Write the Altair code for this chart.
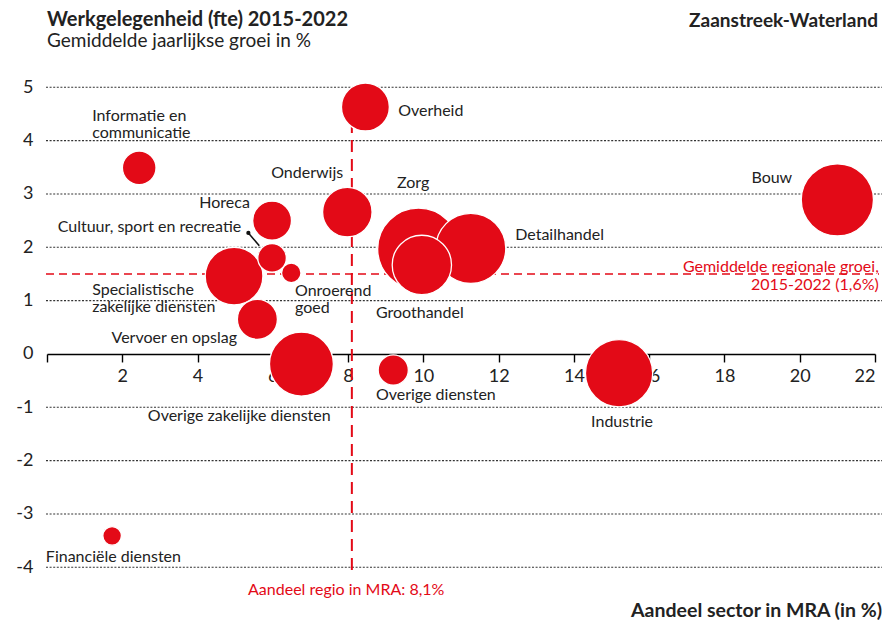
import altair as alt
import pandas as pd

# ---------------- data ----------------
sectoren = ["Informatie en communicatie", "Overheid", "Onderwijs", "Horeca",
            "Specialistische zakelijke diensten", "Cultuur, sport en recreatie",
            "Onroerend goed", "Vervoer en opslag", "Overige zakelijke diensten",
            "Overige diensten", "Zorg", "Detailhandel", "Groothandel", "Industrie",
            "Financiële diensten", "Bouw"]
aandeel_mra = [2.45, 8.46, 7.98, 5.98, 4.97, 5.98, 6.49, 5.59, 6.76, 9.2,
               9.87, 11.26, 9.96, 15.2, 1.73, 21.0]
groei = [3.49, 4.63, 2.66, 2.5, 1.46, 1.8, 1.52, 0.65, -0.19, -0.3,
         1.97, 1.98, 1.67, -0.36, -3.41, 2.89]
fte = [3600, 7300, 7800, 4800, 10600, 2600, 1200, 5100, 13000, 2900,
       21200, 15600, 11200, 14400, 1100, 16600]

# label annotations (data units)
label_tekst = ["Informatie en\ncommunicatie", "Overheid", "Onderwijs", "Zorg", "Horeca",
               "Cultuur, sport en recreatie", "Specialistische\nzakelijke diensten",
               "Onroerend\ngoed", "Groothandel", "Detailhandel", "Bouw",
               "Vervoer en opslag", "Overige zakelijke diensten", "Overige diensten",
               "Industrie", "Financiële diensten"]
label_x = [1.2, 9.33, 7.87, 9.3, 5.39, 5.16, 1.2, 6.59, 8.74, 12.44, 19.8,
           5.05, 2.68, 8.74, 15.28, -0.03]
label_y = [4.37, 4.46, 3.30, 3.11, 2.74, 2.29, 1.11, 1.09, 0.68, 2.14, 3.21,
           0.21, -1.26, -0.86, -1.37, -3.9]
label_align = ["left", "left", "right", "left", "right", "right", "left", "left",
               "left", "left", "right", "right", "left", "left", "center", "left"]

grid_y = [-4, -3, -2, -1, 1, 2, 3, 4, 5]
x_ticks = list(range(0, 23, 2))
y_ticks = list(range(-4, 6))

gem_groei = 1.5
aandeel_regio = 8.1

RED = "#e30a17"
DARK = "#222222"
FONT = "Lato"
W, H = 828, 480

bubbles = pd.DataFrame({"sector": sectoren, "aandeel": aandeel_mra, "groei": groei,
                        "fte": fte, "volgorde": list(range(len(sectoren)))})
labels = pd.DataFrame({"tekst": label_tekst, "lx": label_x, "ly": label_y,
                       "align": label_align})

xscale = alt.Scale(domain=[0, 22], nice=False, zero=False)
yscale = alt.Scale(domain=[-4, 5], nice=False, zero=False)

XAXIS = alt.Axis(values=x_ticks, grid=False, domain=True, domainColor="#000",
                 domainWidth=1.4, ticks=True, tickSize=8, tickColor="#000",
                 tickWidth=1.4, labelFontSize=18, labelFont=FONT,
                 labelColor=DARK, labelPadding=6,
                 labelExpr="datum.value == 0 ? '' : datum.label",
                 offset=-H * 4 / 9, title=None)
YAXIS = alt.Axis(values=y_ticks, grid=False, domain=False, ticks=False,
                 labelFontSize=18, labelFont=FONT, labelColor=DARK,
                 labelPadding=14, labelExpr="toString(datum.value)", title=None)


def X(f):
    return alt.X(f, scale=xscale, axis=XAXIS)


def Y(f):
    return alt.Y(f, scale=yscale, axis=YAXIS)


# gridlines
grid = alt.Chart(pd.DataFrame({"v": grid_y})).mark_rule(
    color="#333333", strokeDash=[2, 1.6], strokeWidth=1.1
).encode(y=Y("v:Q"), x=alt.value(-1), x2=alt.value(W + 7))

# horizontal reference line
href = alt.Chart(pd.DataFrame({"v": [gem_groei]})).mark_rule(
    color=RED, strokeDash=[8, 5], strokeWidth=1.5
).encode(y=Y("v:Q"), x=alt.value(-1), x2=alt.value(W + 4))

# vertical reference line
vref = alt.Chart(pd.DataFrame({"x": [aandeel_regio], "y1": [-4.05], "y2": [5.0]})).mark_rule(
    color=RED, strokeDash=[12, 7], strokeWidth=2
).encode(x=X("x:Q"), y=Y("y1:Q"), y2="y2:Q")

# bubbles
bub = alt.Chart(bubbles).mark_circle(
    color=RED, opacity=1, stroke="white", strokeWidth=1.3
).encode(
    x=X("aandeel:Q"),
    y=Y("groei:Q"),
    size=alt.Size("fte:Q", scale=alt.Scale(type="linear", domain=[0, 25000],
                                            range=[0, 7854]), legend=None),
    order=alt.Order("volgorde:Q")
)

# leader line for Cultuur
leader_df = pd.DataFrame({"x": [5.35], "y": [2.27], "x2": [5.64], "y2": [2.03]})
leader = alt.Chart(leader_df).mark_rule(color="#111", strokeWidth=1.6).encode(
    x=X("x:Q"), y=Y("y:Q"), x2="x2:Q", y2="y2:Q")
leader_dot = alt.Chart(leader_df).mark_circle(color="#111", size=18, opacity=1).encode(
    x=X("x:Q"), y=Y("y:Q"))


# labels
def label_layer(al):
    return alt.Chart(labels).transform_filter(
        alt.datum.align == al
    ).mark_text(align=al, baseline="alphabetic", fontSize=16, font=FONT,
                color=DARK, lineBreak="\n", lineHeight=17).encode(
        x=X("lx:Q"), y=Y("ly:Q"), text="tekst:N")


ann_df = pd.DataFrame({"t": ["Gemiddelde regionale groei,\n2015-2022 (1,6%)"],
                       "x": [22.1], "y": [1.54]})
ann1 = alt.Chart(ann_df).mark_text(align="right", baseline="alphabetic", fontSize=16,
                                   font=FONT, color=RED, lineBreak="\n", lineHeight=18).encode(
    x=X("x:Q"), y=Y("y:Q"), text="t:N")

ann2_df = pd.DataFrame({"t": ["Aandeel regio in MRA: 8,1%"], "x": [7.95], "y": [-4.52]})
ann2 = alt.Chart(ann2_df).mark_text(align="center", baseline="alphabetic", fontSize=16,
                                    font=FONT, color=RED).encode(
    x=X("x:Q"), y=Y("y:Q"), text="t:N")


def ptext(t, x, y, align, size, weight, color=DARK):
    return alt.Chart(pd.DataFrame({"t": [t]})).mark_text(
        align=align, baseline="alphabetic", fontSize=size, fontWeight=weight,
        font=FONT, color=color).encode(x=alt.value(x), y=alt.value(y), text="t:N")


title = ptext("Werkgelegenheid (fte) 2015-2022", 0, -61, "left", 20, "bold")
subtitle = ptext("Gemiddelde jaarlijkse groei in %", 0, -40, "left", 19, "normal")
regio = ptext("Zaanstreek-Waterland", 831, -60, "right", 19, "bold")
xtitle = ptext("Aandeel sector in MRA (in %)", 835, 530, "right", 19.5, "bold")

chart = alt.layer(
    grid, href, vref, bub, leader, leader_dot,
    label_layer("left"), label_layer("right"), label_layer("center"),
    ann1, ann2, title, subtitle, regio, xtitle
).properties(
    width=W, height=H,
    autosize=alt.AutoSizeParams(type="none"),
    padding={"left": 47, "top": 87.3, "right": 11, "bottom": 52.7},
    background="white"
).configure_view(stroke=None)

chart.save("out.html", embed_options={"renderer": "svg", "actions": False})
